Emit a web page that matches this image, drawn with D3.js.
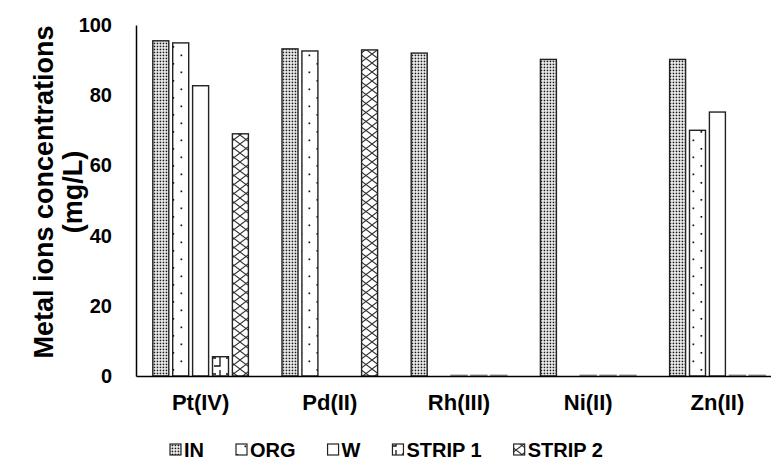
<!DOCTYPE html>
<html>
<head>
<meta charset="utf-8">
<script src="https://cdn.jsdelivr.net/npm/d3@7"></script>
<style>
  html, body { margin: 0; padding: 0; background: #fff; }
  svg { display: block; font-family: "Liberation Sans", Arial, sans-serif; font-weight: bold; }
</style>
</head>
<body>
<svg id="chart" width="771" height="464"></svg>
<script>
const categories = ["Pt(IV)", "Pd(II)", "Rh(III)", "Ni(II)", "Zn(II)"];
const seriesNames = ["IN", "ORG", "W", "STRIP 1", "STRIP 2"];
const valuesIN     = [95.5, 93.2, 92.0, 90.2, 90.2];
const valuesORG    = [94.9, 92.6, 0, 0, 70.0];
const valuesW      = [82.7, 0, 0.2, 0.2, 75.2];
const valuesSTRIP1 = [5.5, 0, 0.2, 0.2, 0.2];
const valuesSTRIP2 = [69.0, 92.9, 0.2, 0.2, 0.2];
const yTicks = [0, 20, 40, 60, 80, 100];
const yTitle = ["Metal ions concentrations", "(mg/L)"];

const seriesValues = [valuesIN, valuesORG, valuesW, valuesSTRIP1, valuesSTRIP2];
const patternIds = ["pIN", "pORG", "pW", "pS1", "pS2"];

const svg = d3.select("#chart");
const defs = svg.append("defs");

// Patterns
const pIN = defs.append("pattern").attr("id", "pIN").attr("patternUnits", "userSpaceOnUse").attr("width", 3).attr("height", 3);
pIN.append("rect").attr("width", 3).attr("height", 3).attr("fill", "#fff");
pIN.append("rect").attr("x", 0.6).attr("y", 0.6).attr("width", 1.7).attr("height", 1.7).attr("fill", "#1a1a1a");

const pORG = defs.append("pattern").attr("id", "pORG").attr("patternUnits", "userSpaceOnUse").attr("width", 16).attr("height", 17);
pORG.append("rect").attr("width", 16).attr("height", 17).attr("fill", "#fff");
pORG.append("rect").attr("x", 4.5).attr("y", 3.5).attr("width", 1.7).attr("height", 1.7).attr("fill", "#111");
pORG.append("rect").attr("x", 12.5).attr("y", 12).attr("width", 1.7).attr("height", 1.7).attr("fill", "#111");

const pW = defs.append("pattern").attr("id", "pW").attr("patternUnits", "userSpaceOnUse").attr("width", 4).attr("height", 4);
pW.append("rect").attr("width", 4).attr("height", 4).attr("fill", "#fff");

const pS1 = defs.append("pattern").attr("id", "pS1").attr("patternUnits", "userSpaceOnUse").attr("width", 16).attr("height", 16);
pS1.append("rect").attr("width", 16).attr("height", 16).attr("fill", "#fff");
pS1.append("path").attr("d", "M2 6 H8 M12 2 V14 H6").attr("stroke", "#111").attr("stroke-width", 1.3).attr("fill", "none");

const pS2 = defs.append("pattern").attr("id", "pS2").attr("patternUnits", "userSpaceOnUse").attr("width", 12).attr("height", 9);
pS2.append("rect").attr("width", 12).attr("height", 9).attr("fill", "#fff");
pS2.append("path").attr("d", "M0 0 L12 9 M12 0 L0 9").attr("stroke", "#333").attr("stroke-width", 1.1).attr("fill", "none");

// Scales
const x0 = d3.scaleBand().domain(categories).range([136, 782]).padding(0);
const pitch = 19.9, barW = 16;
const x1 = d3.scaleBand().domain(seriesNames).range([-pitch * 2.5, pitch * 2.5]).padding(0);
const y = d3.scaleLinear().domain([0, 100]).range([376, 25]);

// Bars
const barData = [];
seriesNames.forEach((s, si) => {
  categories.forEach((c, ci) => {
    const v = seriesValues[si][ci];
    if (v > 0) barData.push({ s, si, c, v });
  });
});

svg.append("g").selectAll("rect").data(barData).join("rect")
  .attr("x", d => x0(d.c) + x0.bandwidth() / 2 + x1(d.s) + (x1.bandwidth() - barW) / 2)
  .attr("y", d => y(d.v))
  .attr("width", barW)
  .attr("height", d => y(0) - y(d.v))
  .attr("fill", d => `url(#${patternIds[d.si]})`)
  .attr("stroke", d => (y(0) - y(d.v)) < 2 ? "#888" : "#222")
  .attr("stroke-width", 1.4);

// Y axis
const yAxis = d3.axisLeft(y).tickValues(yTicks).tickSize(0).tickPadding(24);
const gy = svg.append("g").attr("transform", "translate(136,0)").call(yAxis);
gy.select(".domain").attr("stroke", "#000").attr("stroke-width", 1.5);
gy.selectAll("text").attr("font-size", 20).attr("font-weight", "bold").attr("fill", "#000")
  .attr("font-family", "Liberation Sans, Arial, sans-serif");

// X axis
const xAxis = d3.axisBottom(x0).tickSize(0).tickPadding(18);
const gx = svg.append("g").attr("transform", "translate(0,376)").call(xAxis);
gx.select(".domain").attr("stroke", "#000").attr("stroke-width", 1.5);
gx.selectAll("text").attr("font-size", 22).attr("font-weight", "bold").attr("fill", "#000")
  .attr("font-family", "Liberation Sans, Arial, sans-serif");

// Y title
const title = svg.append("text")
  .attr("transform", "translate(0,192) rotate(-90)")
  .attr("text-anchor", "middle")
  .attr("font-size", 27)
  .attr("fill", "#000");
title.append("tspan").attr("x", 0).attr("y", 53).text(yTitle[0]);
title.append("tspan").attr("x", 0).attr("y", 82).text(yTitle[1]);

// Legend
const legend = svg.append("g");
let lx = 170;
const ly = 450;
seriesNames.forEach((s, i) => {
  legend.append("rect").attr("x", lx).attr("y", ly - 6).attr("width", 11).attr("height", 11)
    .attr("fill", `url(#${patternIds[i]})`).attr("stroke", "#222").attr("stroke-width", 1.2);
  const t = legend.append("text").attr("x", lx + 14).attr("y", ly + 7)
    .attr("font-size", 20).attr("fill", "#000").text(s);
  const w = t.node().getComputedTextLength();
  lx = lx + 14 + w + 32;
});
</script>
</body>
</html>
